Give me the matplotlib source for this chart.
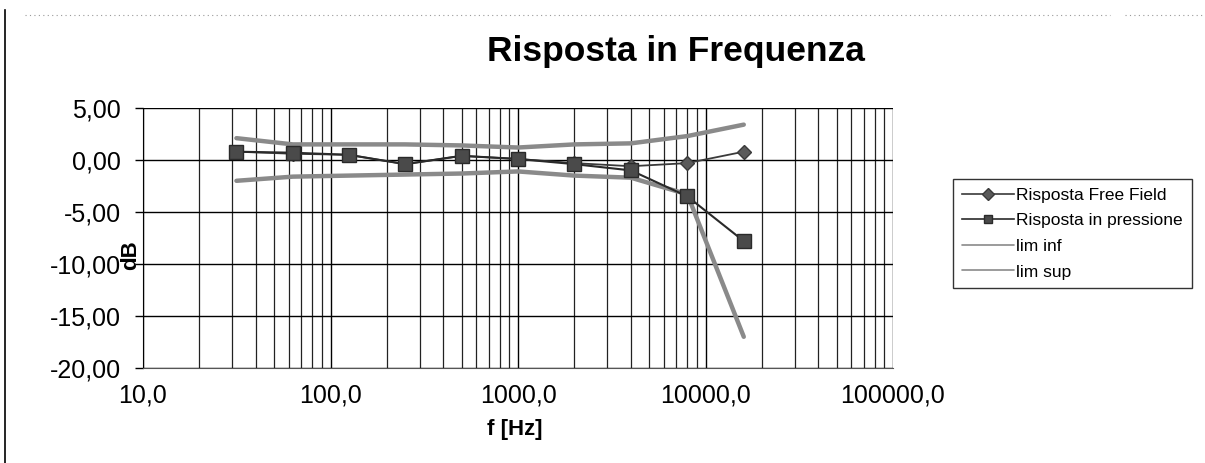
import matplotlib
matplotlib.use("Agg")
import matplotlib.pyplot as plt
from matplotlib.ticker import LogLocator, FuncFormatter, MultipleLocator, NullFormatter
from matplotlib.lines import Line2D

plt.rcParams['font.family'] = ['Liberation Sans', 'DejaVu Sans']

freq = [31.5, 63, 125, 250, 500, 1000, 2000, 4000, 8000, 16000]
free_field = [0.8, 0.6, 0.5, -0.4, 0.4, 0.1, -0.3, -0.6, -0.3, 0.8]
pressione = [0.8, 0.7, 0.5, -0.4, 0.4, 0.1, -0.4, -1.0, -3.5, -7.8]
lim_inf = [-2.0, -1.6, -1.5, -1.4, -1.3, -1.1, -1.5, -1.7, -3.3, -17.0]
lim_sup = [2.1, 1.5, 1.5, 1.5, 1.4, 1.2, 1.5, 1.6, 2.3, 3.4]

series_labels = ["Risposta Free Field", "Risposta in pressione", "lim inf", "lim sup"]
title = "Risposta in Frequenza"
xlabel = "f [Hz]"
ylabel = "dB"

W, H = 1205, 463
fig = plt.figure(figsize=(W / 100, H / 100), dpi=100)
ax = fig.add_axes([143 / W, (H - 368) / H, 750 / W, 260 / H])

ax.set_xscale('log')
ax.set_xlim(10, 100000)
ax.set_ylim(-20, 5)

# grid
ax.xaxis.set_major_locator(LogLocator(base=10, numticks=10))
ax.xaxis.set_minor_locator(LogLocator(base=10, subs=range(2, 10), numticks=50))
ax.xaxis.set_minor_formatter(NullFormatter())
ax.xaxis.set_major_formatter(FuncFormatter(lambda v, p: f"{v:.1f}".replace('.', ',')))
ax.yaxis.set_major_locator(MultipleLocator(5))
ax.yaxis.set_major_formatter(FuncFormatter(lambda v, p: f"{v:.2f}".replace('.', ',')))
ax.grid(True, which='major', axis='both', color='black', lw=1.0)
ax.grid(True, which='minor', axis='x', color='#222222', lw=0.9)
ax.set_axisbelow(True)

for s in ['top', 'right']:
    ax.spines[s].set_visible(False)
ax.spines['left'].set_color('black')
ax.spines['bottom'].set_color('#555555')

ax.tick_params(axis='x', which='both', length=0, pad=11, labelsize=18)
ax.tick_params(axis='y', which='major', length=6, width=1, direction='out', pad=10, labelsize=18)

limc = '#8a8a8a'
l_inf, = ax.plot(freq, lim_inf, color=limc, lw=3.2, solid_capstyle='round', zorder=3)
l_sup, = ax.plot(freq, lim_sup, color=limc, lw=3.2, solid_capstyle='round', zorder=3)
l_ff, = ax.plot(freq, free_field, color='#3a3a3a', lw=1.3, marker='D', ms=7,
                mfc='#5a5a5a', mec='#3a3a3a', zorder=4)
l_pr, = ax.plot(freq, pressione, color='#2a2a2a', lw=1.5, marker='s', ms=10,
                mfc='#4a4a4a', mec='#2a2a2a', zorder=5)

fig.text(676 / W, 1 - 52 / H, title, ha='center', va='center', fontsize=25.5, fontweight='bold')
fig.text(515 / W, 1 - 430 / H, xlabel, ha='center', va='center', fontsize=16, fontweight='bold')
fig.text(131 / W, 1 - 255 / H, ylabel, ha='center', va='center', fontsize=16, fontweight='bold', rotation=90)

leg = fig.legend([l_ff, l_pr, l_inf, l_sup], series_labels,
                 loc='upper left', bbox_to_anchor=(953 / W, 1 - 179 / H),
                 frameon=True, fancybox=False, edgecolor='black', fontsize=12.5,
                 handlelength=3.0, labelspacing=0.6, borderpad=0.5, handletextpad=0.15,
                 borderaxespad=0)
leg.get_frame().set_linewidth(1.0)
for h in leg.legend_handles:
    h.set_linewidth(1.2)
    if h.get_marker() not in (None, 'None', ''):
        h.set_markersize(6)

# scan border lines
fig.add_artist(Line2D([5 / W, 5 / W], [0, 1 - 10 / H], color='black', lw=1.2))
fig.add_artist(Line2D([25 / W, 1110 / W], [1 - 15 / H, 1 - 15 / H], color='#999999', lw=0.8,
                      ls=(0, (1, 3))))
fig.add_artist(Line2D([1125 / W, 1205 / W], [1 - 15 / H, 1 - 15 / H], color='#999999', lw=0.8,
                      ls=(0, (1, 3))))

fig.savefig('out.png', dpi=100)
